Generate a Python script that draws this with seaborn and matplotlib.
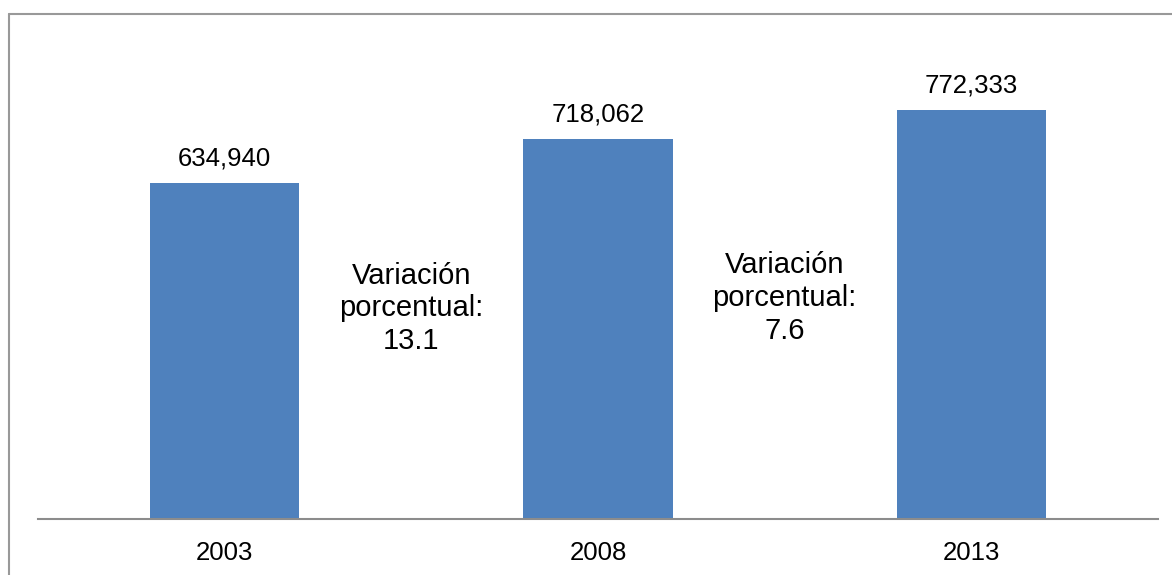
import matplotlib
matplotlib.use("Agg")
import matplotlib.pyplot as plt
import seaborn as sns
import pandas as pd
from matplotlib.lines import Line2D

# --- Data ---
years = ["2003", "2008", "2013"]
values = [634940, 718062, 772333]
variation_text = ["Variación\nporcentual:\n13.1", "Variación\nporcentual:\n7.6"]
variation_x = [0.5, 1.5]
variation_y = [398000, 417000]

df = pd.DataFrame({"year": years, "value": values})

sns.set_style("white")
plt.rcParams['font.family'] = ['Liberation Sans', 'DejaVu Sans']

W, H = 1172, 575
fig = plt.figure(figsize=(W / 100, H / 100), dpi=100)
ax = fig.add_axes([38 / W, (H - 519) / H, (1158 - 38) / W, (519 - 40) / H])

sns.barplot(data=df, x="year", y="value", color="#4F81BD", saturation=1,
            width=0.4, linewidth=0, ax=ax)

ax.set_xlim(-0.5, 2.5)
ax.set_ylim(0, 905000)

# value labels on top of the bars
for cont in ax.containers:
    ax.bar_label(cont, labels=[f"{v:,}" for v in values], padding=9,
                 fontsize=18.5, color="black")

# percentage change notes between bars
for x, y, t in zip(variation_x, variation_y, variation_text):
    ax.text(x, y, t, ha="center", va="center", fontsize=21, color="black",
            linespacing=1.22)

# axes styling
for side in ["left", "right", "top"]:
    ax.spines[side].set_visible(False)
ax.spines["bottom"].set_color("#8c8c8c")
ax.spines["bottom"].set_linewidth(1.5)
ax.set_yticks([])
ax.set_xlabel("")
ax.set_ylabel("")
ax.tick_params(axis="x", length=0, pad=16, labelsize=18.5, labelcolor="black")

# outer chart border (cropped at right and bottom)
fig.add_artist(Line2D([8.5 / W, 8.5 / W], [0, 1 - 13.5 / H], transform=fig.transFigure,
                      color="#999999", linewidth=1.5))
fig.add_artist(Line2D([8.5 / W, 1], [1 - 13.5 / H, 1 - 13.5 / H], transform=fig.transFigure,
                      color="#999999", linewidth=1.5))

fig.savefig("out.png", dpi=100)
